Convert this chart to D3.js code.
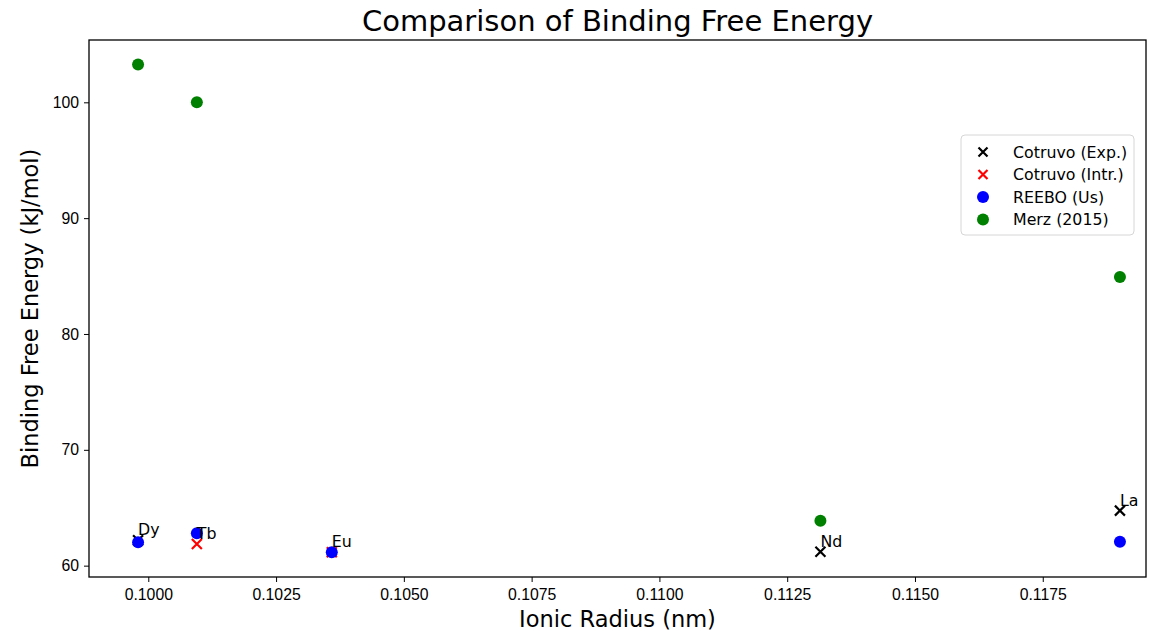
<!DOCTYPE html>
<html lang="en">
<head>
  <meta charset="UTF-8">
  <title>Comparison of Binding Free Energy</title>
  <script src="https://d3js.org/d3.v7.min.js"></script>
  <style>
    body { margin: 0; background: #fff; }
    svg { font-family: "DejaVu Sans", sans-serif; }
    .axis path, .axis line { stroke: #000; }
    .axis text { font-size: 15.8px; fill: #000; }
  </style>
</head>
<body>
  <svg id="chart"></svg>
  <script>
    // Data
    const elements = ["Dy", "Tb", "Eu", "Nd", "La"];
    const radius = [0.09980, 0.10095, 0.10359, 0.11315, 0.11901];
    const cotruvoExp = [62.2, null, null, 61.2, 64.75];
    const cotruvoIntr = [null, 61.87, 61.15, null, null];
    const reebo = [62.01, 62.79, 61.16, null, 62.07];
    const merz = [103.27, 100.0, null, 63.88, 84.91];
    const xTicks = [0.1000, 0.1025, 0.1050, 0.1075, 0.1100, 0.1125, 0.1150, 0.1175];
    const yTicks = [60, 70, 80, 90, 100];

    const W = 1150, H = 631;
    const margin = { top: 40, right: 4, bottom: 54, left: 89 };

    const svg = d3.select("#chart").attr("width", W).attr("height", H);

    const x = d3.scaleLinear().domain([0.09884, 0.11952]).range([margin.left, W - margin.right]);
    const y = d3.scaleLinear().domain([59.02, 105.38]).range([H - margin.bottom, margin.top]);

    // axes
    svg.append("g")
      .attr("class", "axis")
      .attr("transform", "translate(0," + (H - margin.bottom) + ")")
      .call(d3.axisBottom(x).tickValues(xTicks).tickFormat(d3.format(".4f")).tickSizeOuter(0).tickSize(5).tickPadding(7));

    svg.append("g")
      .attr("class", "axis")
      .attr("transform", "translate(" + margin.left + ",0)")
      .call(d3.axisLeft(y).tickValues(yTicks).tickSizeOuter(0).tickSize(5).tickPadding(5));

    svg.selectAll(".axis .domain").remove();

    // frame
    svg.append("rect")
      .attr("x", margin.left).attr("y", margin.top)
      .attr("width", W - margin.right - margin.left)
      .attr("height", H - margin.bottom - margin.top)
      .attr("fill", "none").attr("stroke", "#000").attr("stroke-width", 1.3);

    const pts = (arr) => arr.map((v, i) => ({ x: radius[i], y: v, el: elements[i] })).filter(d => d.y !== null);

    function crosses(data, color) {
      const s = 5;
      const g = svg.append("g").attr("stroke", color).attr("stroke-width", 2.2);
      g.selectAll("path").data(data).enter().append("path")
        .attr("d", d => {
          const cx = x(d.x), cy = y(d.y);
          return `M${cx - s},${cy - s}L${cx + s},${cy + s}M${cx - s},${cy + s}L${cx + s},${cy - s}`;
        });
    }

    function dots(data, color) {
      svg.append("g").selectAll("circle").data(data).enter().append("circle")
        .attr("cx", d => x(d.x)).attr("cy", d => y(d.y)).attr("r", 6).attr("fill", color);
    }

    crosses(pts(cotruvoExp), "#000");
    crosses(pts(cotruvoIntr), "#ff0000");
    dots(pts(reebo), "#0000ff");
    dots(pts(merz), "#008000");

    // element labels at the Cotruvo points
    const labelPts = elements.map((el, i) => ({ el, x: radius[i], y: cotruvoExp[i] !== null ? cotruvoExp[i] : cotruvoIntr[i] }));
    svg.append("g").selectAll("text").data(labelPts).enter().append("text")
      .attr("x", d => x(d.x)).attr("y", d => y(d.y) - 5)
      .attr("font-size", 15.8).attr("fill", "#000")
      .text(d => d.el);

    // title and labels
    svg.append("text")
      .attr("x", (margin.left + W - margin.right) / 2).attr("y", 31)
      .attr("text-anchor", "middle").attr("font-size", 29)
      .text("Comparison of Binding Free Energy");

    svg.append("text")
      .attr("x", (margin.left + W - margin.right) / 2).attr("y", 627)
      .attr("text-anchor", "middle").attr("font-size", 22.5)
      .text("Ionic Radius (nm)");

    svg.append("text")
      .attr("transform", "translate(38," + ((margin.top + H - margin.bottom) / 2) + ") rotate(-90)")
      .attr("text-anchor", "middle").attr("font-size", 22.5)
      .text("Binding Free Energy (kJ/mol)");

    // legend
    const legendItems = [
      { name: "Cotruvo (Exp.)", type: "x", color: "#000" },
      { name: "Cotruvo (Intr.)", type: "x", color: "#ff0000" },
      { name: "REEBO (Us)", type: "o", color: "#0000ff" },
      { name: "Merz (2015)", type: "o", color: "#008000" }
    ];
    const lg = svg.append("g").attr("transform", "translate(961,135)");
    lg.append("rect").attr("width", 173).attr("height", 100).attr("rx", 4)
      .attr("fill", "#fff").attr("fill-opacity", 0.8).attr("stroke", "#d6d6d6");
    const row = lg.selectAll("g.row").data(legendItems).enter().append("g")
      .attr("class", "row")
      .attr("transform", (d, i) => "translate(22," + (17 + i * 22.5) + ")");
    row.filter(d => d.type === "x").append("path")
      .attr("d", "M-4.5,-4.5L4.5,4.5M-4.5,4.5L4.5,-4.5")
      .attr("stroke", d => d.color).attr("stroke-width", 2.2);
    row.filter(d => d.type === "o").append("circle")
      .attr("r", 6).attr("fill", d => d.color);
    row.append("text").attr("x", 30).attr("dy", "0.36em")
      .attr("font-size", 15.8).text(d => d.name);
  </script>
</body>
</html>
